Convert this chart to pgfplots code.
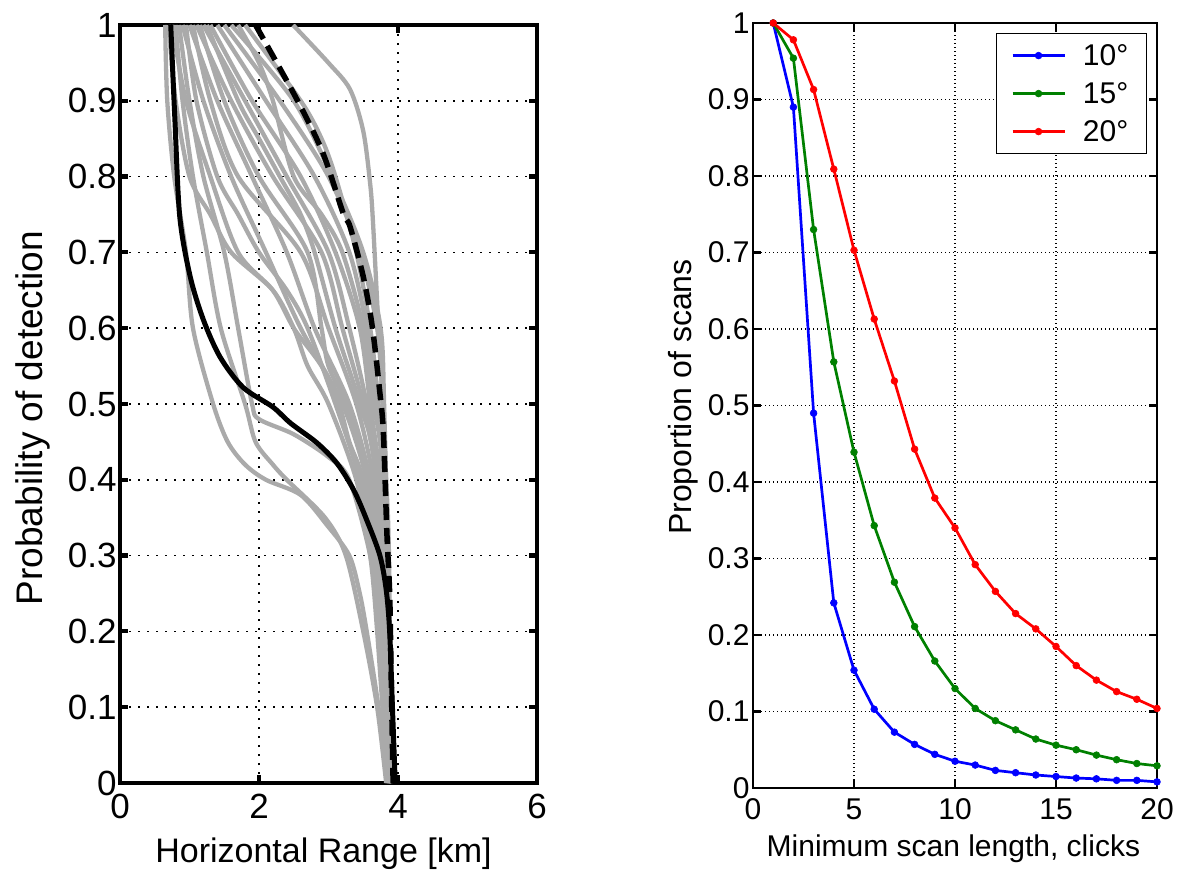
\documentclass[border=0pt]{standalone}
\usepackage{fontspec}
\setmainfont{Liberation Sans}
\usepackage{pgfplots}
\pgfplotsset{compat=1.18}
\definecolor{mgray}{RGB}{170,170,170}
\definecolor{mblue}{RGB}{0,0,255}
\definecolor{mgreen}{RGB}{0,128,0}
\definecolor{mred}{RGB}{255,0,0}
\tikzset{gc/.style={mgray, line width=4.3pt, smooth, mark=none, solid}}
\begin{document}
\begin{tikzpicture}
\useasboundingbox (0,0) rectangle (1177pt,875pt);
% ---------------- left panel ----------------
\begin{axis}[
  at={(120pt,92pt)}, anchor=south west,
  scale only axis, width=417pt, height=758pt,
  xmin=0, xmax=6, ymin=0, ymax=1,
  xtick={0,2,4,6},
  ytick={0,0.1,0.2,0.3,0.4,0.5,0.6,0.7,0.8,0.9,1},
  grid=major,
  major grid style={black, line width=1.7pt, dash pattern=on 1.7pt off 7.3pt},
  axis line style={line width=4.2pt},
  every tick/.style={black, line width=4.2pt},
  major tick length=8pt,
  tick align=inside,
  /pgf/number format/assume math mode=true,
  /pgf/number format/fixed,
  tick label style={font=\fontsize{35}{35}\selectfont},
  xticklabel style={yshift=-8pt},
  xlabel={Horizontal Range [km]},
  ylabel={Probability of detection},
  xlabel style={font=\fontsize{34}{34}\selectfont, at={(axis description cs:0.488,-0.1055)}, anchor=base},
  ylabel style={font=\fontsize{37}{37}\selectfont, at={(axis description cs:-0.187,0.4815)}, anchor=base},
]
\addplot[gc] coordinates {(0.65,1) (0.68,0.9) (0.78,0.8) (0.95,0.7) (1.05,0.6) (1.34,0.5) (1.55,0.45) (1.8,0.42) (2.1,0.4) (2.6,0.38) (2.98,0.34) (3.3,0.3) (3.45,0.25) (3.55,0.2) (3.72,0.1) (3.85,0)};
\addplot[gc] coordinates {(0.8,1) (0.9,0.9) (1.05,0.8) (1.25,0.7) (1.45,0.6) (1.8,0.5) (1.95,0.45) (2.2,0.42) (2.4,0.4) (2.95,0.35) (3.25,0.3) (3.5,0.2) (3.7,0.1) (3.83,0)};
\addplot[gc] coordinates {(0.85,1) (1.0,0.9) (1.2,0.8) (1.5,0.7) (1.7,0.6) (1.9,0.5) (2.0,0.48) (2.5,0.46) (3.0,0.43) (3.3,0.4) (3.6,0.3) (3.75,0.2) (3.82,0.1) (3.88,0)};
\addplot[gc] coordinates {(0.9,1) (1.2,0.9) (1.6,0.8) (2.1,0.7) (2.6,0.6) (3.2,0.5) (3.55,0.4) (3.7,0.3) (3.8,0.2) (3.85,0.1) (3.87,0)};
\addplot[gc] coordinates {(1.0,1) (1.4,0.9) (1.9,0.8) (2.4,0.7) (2.8,0.6) (3.3,0.5) (3.6,0.4) (3.75,0.3) (3.82,0.2) (3.86,0.1) (3.88,0)};
\addplot[gc] coordinates {(1.05,1) (1.3,0.9) (1.7,0.8) (2.6,0.7) (3.0,0.6) (3.4,0.5) (3.65,0.4) (3.78,0.3) (3.84,0.2) (3.9,0)};
\addplot[gc] coordinates {(1.1,1) (1.6,0.9) (2.2,0.8) (2.9,0.7) (3.2,0.6) (3.5,0.5) (3.7,0.4) (3.8,0.3) (3.85,0.2) (3.9,0)};
\addplot[gc] coordinates {(1.2,1) (1.8,0.9) (2.4,0.8) (3.0,0.7) (3.3,0.6) (3.55,0.5) (3.72,0.4) (3.82,0.3) (3.9,0)};
\addplot[gc] coordinates {(1.3,1) (1.9,0.9) (2.6,0.8) (3.1,0.7) (3.45,0.6) (3.6,0.5) (3.75,0.4) (3.85,0.3) (3.92,0)};
\addplot[gc] coordinates {(1.4,1) (2.1,0.9) (2.8,0.8) (3.3,0.7) (3.55,0.6) (3.7,0.5) (3.8,0.4) (3.85,0.3) (3.9,0)};
\addplot[gc] coordinates {(1.5,1) (2.3,0.9) (3.0,0.8) (3.45,0.7) (3.7,0.6) (3.78,0.5) (3.82,0.4) (3.9,0)};
\addplot[gc] coordinates {(1.6,1) (2.5,0.9) (3.05,0.8) (3.5,0.7) (3.75,0.6) (3.8,0.5) (3.85,0.3) (3.9,0)};
\addplot[gc] coordinates {(0.95,1) (1.1,0.9) (1.4,0.8) (1.7,0.75) (2.0,0.7) (2.4,0.65) (2.7,0.6) (3.1,0.5) (3.45,0.4) (3.65,0.3) (3.78,0.2) (3.87,0)};
\addplot[gc] coordinates {(1.15,1) (1.5,0.9) (2.0,0.8) (2.7,0.7) (2.9,0.6) (3.0,0.55) (3.25,0.5) (3.6,0.4) (3.75,0.3) (3.88,0)};
\addplot[gc] coordinates {(1.8,1) (2.6,0.9) (2.9,0.85) (3.1,0.8) (3.4,0.7) (3.6,0.6) (3.72,0.5) (3.8,0.4) (3.9,0)};
\addplot[gc] coordinates {(2.49,1) (3.0,0.95) (3.31,0.915) (3.5,0.86) (3.6,0.79) (3.64,0.74) (3.72,0.6) (3.78,0.5) (3.83,0.4) (3.87,0.3) (3.9,0)};
\addplot[gc] coordinates {(1.25,1) (1.7,0.9) (2.0,0.85) (2.3,0.8) (2.6,0.75) (2.8,0.7) (3.1,0.6) (3.45,0.5) (3.68,0.4) (3.88,0)};
\addplot[gc] coordinates {(0.75,1) (0.95,0.9) (1.3,0.8) (1.7,0.7) (2.2,0.65) (2.5,0.6) (2.9,0.55) (3.15,0.5) (3.3,0.45) (3.5,0.4) (3.7,0.3) (3.8,0.2) (3.86,0)};
\addplot[gc] coordinates {(1.7,1) (2.0,0.95) (2.2,0.9) (2.5,0.8) (2.9,0.75) (3.2,0.7) (3.5,0.6) (3.65,0.5) (3.78,0.4) (3.9,0)};
\addplot[gc] coordinates {(0.7,1) (0.8,0.9) (1.0,0.8) (1.3,0.75) (1.6,0.7) (2.2,0.65) (2.5,0.6) (2.7,0.55) (3.0,0.5) (3.4,0.4) (3.6,0.3) (3.7,0.2) (3.85,0)};
% dashed black
\addplot[black, line width=5.5pt, dash pattern=on 16pt off 8pt, smooth, mark=none] coordinates {(1.95,1) (2.55,0.901) (2.92,0.831) (3.21,0.752) (3.31,0.734) (3.5,0.668) (3.63,0.602) (3.74,0.514) (3.79,0.462) (3.84,0.33) (3.88,0.25) (3.9,0.15) (3.93,0)};
% solid black
\addplot[black, line width=5pt, smooth, mark=none, solid] coordinates {(0.73,1) (0.79,0.875) (0.86,0.747) (1.01,0.668) (1.2,0.611) (1.44,0.562) (1.77,0.522) (2.2,0.496) (2.45,0.475) (2.83,0.449) (3.12,0.422) (3.36,0.387) (3.55,0.347) (3.74,0.3) (3.83,0.255) (3.88,0.2) (3.92,0.1) (3.96,0)};
\end{axis}
% ---------------- right panel ----------------
\begin{axis}[
  at={(753pt,87pt)}, anchor=south west,
  scale only axis, width=404pt, height=765pt,
  xmin=0, xmax=20, ymin=0, ymax=1,
  xtick={0,5,10,15,20},
  ytick={0,0.1,0.2,0.3,0.4,0.5,0.6,0.7,0.8,0.9,1},
  grid=major,
  major grid style={black, line width=1.2pt, dash pattern=on 1.2pt off 2.8pt},
  axis line style={line width=2.6pt},
  every tick/.style={black, line width=2.6pt},
  major tick length=8pt,
  tick align=inside,
  /pgf/number format/assume math mode=true,
  /pgf/number format/fixed,
  tick label style={font=\fontsize{30}{30}\selectfont},
  xticklabel style={yshift=-7pt},
  xlabel={Minimum scan length, clicks},
  ylabel={Proportion of scans},
  xlabel style={font=\fontsize{30}{30}\selectfont, at={(axis description cs:0.496,-0.090)}, anchor=base},
  ylabel style={font=\fontsize{32}{32}\selectfont, at={(axis description cs:-0.153,0.511)}, anchor=base},
  legend style={at={(rel axis cs:0.975,0.987)}, anchor=north east,
    draw=black, line width=1.3pt,
    inner xsep=15pt, inner ysep=3pt, row sep=0pt, column sep=14pt,
    nodes={font=\fontsize{30}{30}\selectfont, text height=20pt, text depth=0pt, inner ysep=9pt, inner xsep=3pt}},
  legend cell align=left,
  legend image code/.code={\draw[mark repeat=2,mark phase=2,#1] plot coordinates {(0pt,0pt) (26pt,0pt) (52pt,0pt)};},
]
\addplot[mblue, line width=2.7pt, mark=*, mark size=3.4pt, mark options={line width=0.6pt}] coordinates {(1,1) (2,0.89) (3,0.49) (4,0.242) (5,0.154) (6,0.103) (7,0.073) (8,0.057) (9,0.044) (10,0.035) (11,0.030) (12,0.023) (13,0.020) (14,0.017) (15,0.015) (16,0.013) (17,0.012) (18,0.010) (19,0.010) (20,0.008)};
\addlegendentry{10°}
\addplot[mgreen, line width=2.7pt, mark=*, mark size=3.4pt, mark options={line width=0.6pt}] coordinates {(1,1) (2,0.954) (3,0.730) (4,0.557) (5,0.439) (6,0.343) (7,0.269) (8,0.211) (9,0.166) (10,0.130) (11,0.104) (12,0.088) (13,0.076) (14,0.064) (15,0.056) (16,0.050) (17,0.043) (18,0.037) (19,0.032) (20,0.029)};
\addlegendentry{15°}
\addplot[mred, line width=2.7pt, mark=*, mark size=3.4pt, mark options={line width=0.6pt}] coordinates {(1,1) (2,0.978) (3,0.913) (4,0.809) (5,0.703) (6,0.613) (7,0.532) (8,0.443) (9,0.379) (10,0.340) (11,0.292) (12,0.257) (13,0.228) (14,0.208) (15,0.185) (16,0.160) (17,0.141) (18,0.126) (19,0.116) (20,0.104)};
\addlegendentry{20°}
\end{axis}
\end{tikzpicture}
\end{document}
